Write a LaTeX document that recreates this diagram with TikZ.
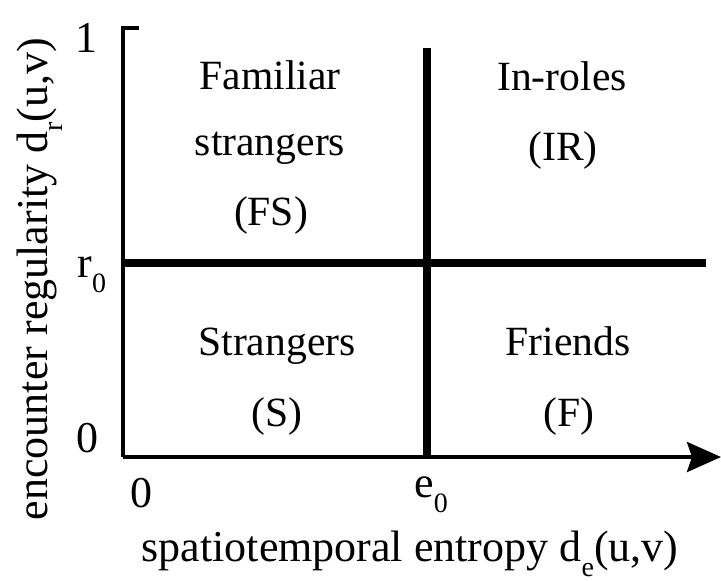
\documentclass[tikz,border=0pt]{standalone}
\usepackage{fontspec}
\setmainfont{Liberation Serif}
\usetikzlibrary{arrows.meta}
\newcommand\sbs[1]{\raisebox{-0.36em}{\fontsize{14}{15}\selectfont #1}}
\begin{document}
\begin{tikzpicture}[x=0.5pt,y=-0.5pt,
  txt/.style={anchor=base, inner sep=0pt, font=\fontsize{22}{25}\selectfont},
  quad/.style={anchor=base, inner sep=0pt, font=\fontsize{20.8}{24}\selectfont},
  axisline/.style={line width=1.6pt},
  divider/.style={line width=4pt}]
\useasboundingbox (0,0) rectangle (721,580);
% axes
\coordinate (tick) at (139,28);
\coordinate (top) at (123,28);
\coordinate (O) at (123,457);
\coordinate (xend) at (721,457);
\draw[axisline, line cap=butt] (tick) -- (top) -- (O);
\draw[line width=1.9pt, -{Stealth[length=17pt,width=15pt,inset=2.5pt]}] (O) -- (xend);
% dividers
\coordinate (vtop) at (427,48);
\coordinate (vbot) at (427,457);
\coordinate (hl) at (123,263);
\coordinate (hr) at (706,263);
\draw[divider] (vtop) -- (vbot);
\draw[divider] (hl) -- (hr);
% tick labels
\node[txt] (one) at (86,52) {1};
\node[txt, anchor=base west] (r0) at (77,277) {r\sbs{0}};
\node[txt] (yzero) at (87,452) {0};
\node[txt] (xzero) at (141,507) {0};
\node[txt, anchor=base west] (e0) at (414,497) {e\sbs{0}};
% axis labels
\node[txt] (xlab) at (410,561) {spatiotemporal entropy d\sbs{e}(u,v)};
\node[txt, rotate=90] (ylab) at (47,279) {encounter regularity d\sbs{r}(u,v)};
% quadrant labels
\node[quad] (fs1) at (270,89) {Familiar};
\node[quad] (fs2) at (270,155) {strangers};
\node[quad] (fs3) at (271,225) {(FS)};
\node[quad] (ir1) at (562,90) {In-roles};
\node[quad] (ir2) at (563,160) {(IR)};
\node[quad] (s1) at (277,355) {Strangers};
\node[quad] (s2) at (277,426) {(S)};
\node[quad] (f1) at (568,355) {Friends};
\node[quad] (f2) at (569,426) {(F)};
\end{tikzpicture}
\end{document}
